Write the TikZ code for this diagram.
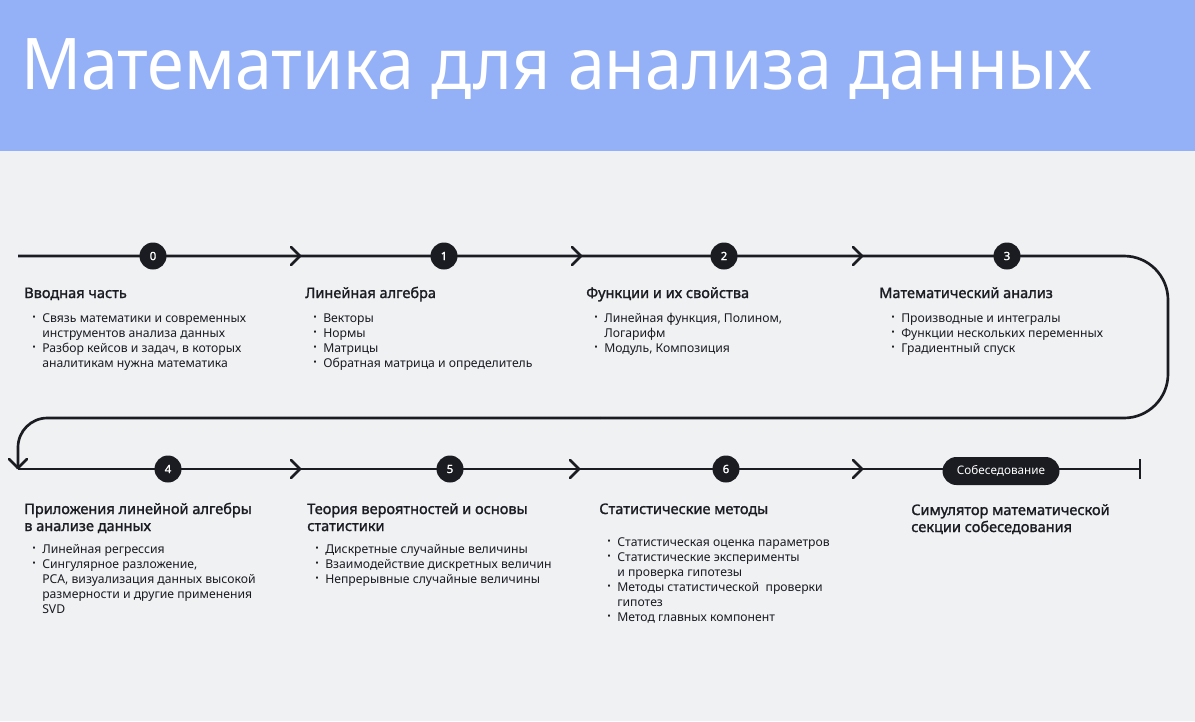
\documentclass[tikz,border=0pt]{standalone}
\usepackage{fontspec}
\setmainfont{Noto Sans}
\newfontfamily\medfont{Noto Sans}[FakeBold=1.5]
\definecolor{hdr}{HTML}{94B1F8}
\definecolor{bgc}{HTML}{F0F1F3}
\definecolor{ink}{HTML}{1B1C22}
\newlength\bi \newlength\ti
\setlength\bi{6pt}\setlength\ti{13.5pt}
\newcommand\bul{\raisebox{0.2ex}{\fontsize{7pt}{7pt}\selectfont •}}
\newcommand\itm[1]{\par\noindent\hspace*{\bi}\makebox[\dimexpr\ti-\bi\relax][l]{\bul}#1}
\newcommand\cnt[1]{\par\noindent\hspace*{\ti}#1}
\newcommand\blkbox[3]{\parbox[t]{230pt}{\medfont\fontsize{10.9pt}{12.75pt}\selectfont #2\par\vspace{#1}\normalfont\fontsize{9.15pt}{11.25pt}\selectfont #3}}
\begin{document}
\begin{tikzpicture}[x=0.75pt,y=-0.75pt,
  tl/.style={line width=2pt, draw=ink},
  badge/.style={circle, fill=ink, text=white, minimum size=20.25pt, inner sep=0pt, font=\medfont\fontsize{8.5pt}{8.5pt}\selectfont},
  pill/.style={rounded corners=10.5pt, fill=ink, text=white, minimum width=87.75pt, minimum height=21pt, inner sep=0pt, font=\fontsize{8.8pt}{8.8pt}\selectfont},
  blk/.style={anchor=base west, inner sep=0pt, text=ink},
  chev/.pic={\draw[tl, line cap=round, line join=round] (-9,-9) -- (0,0) -- (-9,9);}
]
\useasboundingbox (0,0) rectangle (1195,721);
\fill[bgc] (0,0) rectangle (1195,721);
\fill[hdr] (0,0) rectangle (1195,151);
\node[anchor=base west, inner sep=0pt, text=white, font=\fontsize{53.5pt}{60pt}\selectfont] (title) at (21,89) {\scalebox{0.93}[1]{Математика для анализа данных}};

% timeline
\coordinate (s1) at (18,256);
\coordinate (rt) at (1168,256);
\coordinate (rb) at (1168,418);
\coordinate (mid) at (600,418);
\coordinate (lb) at (18,418);
\coordinate (s2) at (18,469);
\coordinate (e2) at (1140,469);
\coordinate (e2a) at (1140,459);
\coordinate (e2b) at (1140,479);
\draw[tl, rounded corners=33pt] (s1) -- (rt) -- (rb) -- (mid);
\draw[tl, rounded corners=22pt] (mid) -- (lb) -- (s2);
\draw[tl] (s2) -- (e2);
\draw[tl] (e2a) -- (e2b);

\pic at (300,256) {chev};
\pic at (581,256) {chev};
\pic at (862,256) {chev};
\pic at (300,469) {chev};
\pic at (579,469) {chev};
\pic at (862,469) {chev};
\pic[rotate=-90] at (18,468) {chev};

\node[badge] (n0) at (153,256) {0};
\node[badge] (n1) at (444,256) {1};
\node[badge] (n2) at (724,256) {2};
\node[badge] (n3) at (1007,256) {3};
\node[badge] (n4) at (168,469) {4};
\node[badge] (n5) at (450,469) {5};
\node[badge] (n6) at (726,469) {6};
\node[pill] (n7) at (1001,471) {Собеседование};

% blocks, row 1
\node[blk] (b0) at (24,298) {\blkbox{6.75pt}{Вводная часть}{%
  \itm{Связь математики и современных}\cnt{инструментов анализа данных}%
  \itm{Разбор кейсов и задач, в которых}\cnt{аналитикам нужна математика}}};
\node[blk] (b1) at (305,298) {\blkbox{6.75pt}{Линейная алгебра}{%
  \itm{Векторы}\itm{Нормы}\itm{Матрицы}\itm{Обратная матрица и определитель}}};
\node[blk] (b2) at (586,298) {\blkbox{6.75pt}{Функции и их свойства}{%
  \itm{Линейная функция, Полином,}\cnt{Логарифм}\itm{Модуль, Композиция}}};
\node[blk] (b3) at (879,298) {\setlength\bi{9pt}\setlength\ti{16.5pt}\blkbox{6.75pt}{Математический анализ}{%
  \itm{Производные и интегралы}\itm{Функции нескольких переменных}\itm{Градиентный спуск}}};

% blocks, row 2
\node[blk] (b4) at (24,514) {\blkbox{5.25pt}{Приложения линейной алгебры\\в анализе данных}{%
  \itm{Линейная регрессия}\itm{Сингулярное разложение,}\cnt{PCA, визуализация данных высокой}%
  \cnt{размерности и другие применения}\cnt{SVD}}};
\node[blk] (b5) at (307,514) {\blkbox{5.25pt}{Теория вероятностей и основы\\статистики}{%
  \itm{Дискретные случайные величины}\itm{Взаимодействие дискретных величин}\itm{Непрерывные случайные величины}}};
\node[blk] (b6) at (599,514) {\blkbox{12.75pt}{Статистические методы}{%
  \itm{Статистическая оценка параметров}\itm{Статистические эксперименты}\cnt{и проверка гипотезы}%
  \itm{Методы статистической~ проверки}\cnt{гипотез}\itm{Метод главных компонент}}};
\node[blk] (b7) at (911,515) {\blkbox{0pt}{Симулятор математической\\секции собеседования}{}};
\end{tikzpicture}
\end{document}
